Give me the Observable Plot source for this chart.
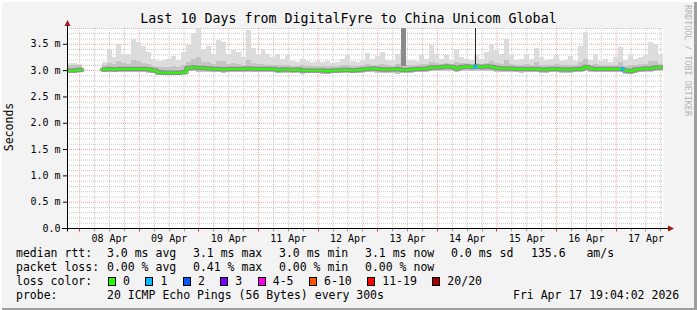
<!DOCTYPE html>
<html>
<head>
<meta charset="utf-8">
<script src="https://cdn.jsdelivr.net/npm/d3@7"></script>
<script src="https://cdn.jsdelivr.net/npm/@observablehq/plot@0.6"></script>
<style>
html,body{margin:0;padding:0;background:#f3f3f3;}
#chart{position:relative;width:697px;height:310px;background:#f3f3f3;overflow:hidden;
  box-shadow: inset 2px 2px 0 #fdfdfd, inset -3px -2px 0 #9e9e9e;
  font-family:"DejaVu Sans Mono",monospace;color:#000;}
#chart svg{position:absolute;left:0;top:0;}
.t{position:absolute;white-space:pre;line-height:1;font-size:11.5px;}
#title{position:absolute;left:0;top:11.5px;width:697px;text-align:center;font-size:13.3px;line-height:1;white-space:pre;}
#ylab{position:absolute;left:10px;top:127px;font-size:11.5px;line-height:1;transform:translate(-50%,-50%) rotate(-90deg);white-space:pre;}
#wm{position:absolute;left:684px;top:5px;font-size:8.4px;line-height:1;writing-mode:vertical-rl;color:#b4b4b4;white-space:pre;}
#losslegend{position:absolute;left:108px;top:276px;display:flex;align-items:center;height:11.5px;}
#losslegend .box{width:8px;height:9px;box-sizing:border-box;border:1px solid #000;margin-right:7px;}
#losslegend .lab{font-size:11.5px;line-height:1;margin-right:15.5px;white-space:pre;}
</style>
</head>
<body>
<div id="chart"></div>
<script>
// ---------- data ----------
const titleText = "Last 10 Days from DigitalFyre to China Unicom Global";
const yAxisLabel = "Seconds";
const watermark = "RRDTOOL / TOBI OETIKER";
const rangeStart = "2026-04-07T19:04:02Z";
const rangeEnd = "2026-04-17T19:04:02Z";
const bucketStart = "2026-04-07T19:00:00Z";
const stepHours = 2;

// median RTT (ms) per 2-hour bucket
const median = [3.00,3.00,3.01,null,null,null,null,
  3.02,3.03,3.02,3.03,3.03,3.03,3.03,3.03,3.03,3.02,3.00,
  2.97,2.96,2.96,2.96,2.96,2.97,
  3.05,3.06,3.05,3.05,3.04,3.03,3.03,3.02,3.03,3.03,3.03,3.03,3.04,3.03,3.03,3.03,
  3.03,3.03,3.01,3.02,3.02,3.01,3.02,3.00,3.00,3.00,
  3.00,3.00,2.99,3.00,3.00,3.01,3.01,3.00,3.01,3.02,
  3.03,3.04,3.03,3.02,3.02,3.02,3.03,3.01,3.01,3.02,
  3.03,3.03,3.04,3.06,3.06,3.07,3.08,3.07,3.04,3.07,
  3.08,3.07,3.08,3.07,3.08,3.07,3.05,3.04,3.04,3.04,
  3.03,3.03,3.03,3.03,3.03,3.02,3.02,3.03,3.03,3.02,
  3.02,3.02,3.03,3.03,3.07,3.04,3.03,3.03,3.03,3.03,
  3.03,3.03,3.00,2.99,3.02,3.03,3.04,3.04,3.06,3.06];

// slowest ping per bucket (top of light smoke)
const maxRtt = [3.13,3.14,3.12,null,null,null,null,
  3.15,3.38,3.25,3.50,3.30,3.30,3.60,3.54,3.45,3.35,3.22,
  3.18,3.20,3.22,3.27,3.20,3.35,
  3.48,3.70,3.80,3.40,3.45,3.30,3.57,3.54,3.30,3.38,3.35,3.25,3.77,3.42,3.30,3.38,
  3.30,3.25,3.30,3.22,3.28,3.17,3.15,3.22,3.18,3.16,
  3.18,3.15,3.17,3.14,3.16,3.22,3.28,3.18,3.15,3.20,
  3.33,3.22,3.26,3.35,3.20,3.17,3.30,3.40,3.20,3.20,
  3.18,3.28,3.22,3.48,3.30,3.22,3.28,3.20,3.41,3.25,
  3.22,3.20,3.29,3.22,3.35,3.50,3.38,3.30,3.60,3.30,
  3.20,3.22,3.30,3.22,3.42,3.25,3.20,3.22,3.29,3.18,
  3.20,3.27,3.18,3.45,3.72,3.20,3.30,3.18,3.22,3.15,
  3.24,3.44,3.20,3.30,3.22,3.25,3.28,3.54,3.50,3.30];

// upper edge of the dense smoke
const upperRtt = [3.09,3.10,3.09,null,null,null,null,
  3.10,3.14,3.12,3.18,3.13,3.12,3.20,3.18,3.14,3.12,3.08,
  3.06,3.05,3.06,3.07,3.06,3.10,
  3.16,3.22,3.25,3.15,3.16,3.12,3.18,3.17,3.12,3.13,3.12,3.10,3.20,3.14,3.11,3.12,
  3.10,3.10,3.09,3.09,3.10,3.08,3.08,3.09,3.08,3.08,
  3.08,3.07,3.08,3.07,3.08,3.09,3.10,3.08,3.08,3.09,
  3.12,3.10,3.10,3.12,3.09,3.08,3.11,3.13,3.10,3.10,
  3.10,3.11,3.11,3.16,3.13,3.12,3.14,3.12,3.16,3.13,
  3.13,3.12,3.14,3.12,3.14,3.18,3.14,3.12,3.20,3.12,
  3.10,3.10,3.12,3.10,3.15,3.10,3.09,3.10,3.11,3.09,
  3.09,3.10,3.09,3.15,3.22,3.10,3.11,3.09,3.10,3.09,
  3.10,3.15,3.08,3.10,3.10,3.11,3.12,3.18,3.17,3.12];

// fastest ping per bucket (bottom of smoke)
const lowerRtt = [2.95,2.95,2.96,null,null,null,null,
  2.96,2.96,2.96,2.96,2.96,2.96,2.96,2.96,2.96,2.95,2.94,
  2.91,2.90,2.90,2.90,2.90,2.92,
  2.98,2.98,2.97,2.97,2.97,2.96,2.96,2.95,2.96,2.96,2.96,2.96,2.96,2.96,2.96,2.96,
  2.96,2.96,2.95,2.95,2.95,2.94,2.95,2.93,2.94,2.94,
  2.94,2.93,2.93,2.94,2.94,2.94,2.95,2.94,2.94,2.95,
  2.96,2.96,2.95,2.95,2.95,2.95,2.93,2.94,2.95,2.95,
  2.96,2.96,2.97,2.98,2.98,2.99,2.99,2.98,2.96,2.98,
  2.99,2.98,2.99,2.98,2.99,2.98,2.97,2.96,2.96,2.96,
  2.96,2.95,2.96,2.96,2.96,2.95,2.95,2.96,2.96,2.95,
  2.95,2.95,2.96,2.96,2.98,2.96,2.96,2.96,2.96,2.96,
  2.96,2.96,2.93,2.92,2.95,2.96,2.96,2.97,2.98,2.98];

// isolated tall smoke columns
const spikeStart = ["2026-04-13T09:34:00Z", "2026-04-14T15:10:00Z"];
const spikeEnd   = ["2026-04-13T11:40:00Z", "2026-04-14T15:34:00Z"];
const spikeLow   = [3.08, 3.07];
const spikeHigh  = [3.80, 3.80];
const spikeColor = ["#8a8a8a", "#262626"];

// packet-loss events on the median line
const lossTimes = ["2026-04-14T15:22:00Z", "2026-04-17T02:35:00Z"];
const lossRtt = [3.07, 3.03];
const lossCount = [1, 1];

// axes
const yTicks = [0, 0.5, 1.0, 1.5, 2.0, 2.5, 3.0, 3.5];
const yTickLabels = ["0.0", "0.5 m", "1.0 m", "1.5 m", "2.0 m", "2.5 m", "3.0 m", "3.5 m"];
const xTickDates = ["2026-04-08T12:00:00Z","2026-04-09T12:00:00Z","2026-04-10T12:00:00Z","2026-04-11T12:00:00Z","2026-04-12T12:00:00Z",
  "2026-04-13T12:00:00Z","2026-04-14T12:00:00Z","2026-04-15T12:00:00Z","2026-04-16T12:00:00Z","2026-04-17T12:00:00Z"];
const xTickLabels = ["08 Apr","09 Apr","10 Apr","11 Apr","12 Apr","13 Apr","14 Apr","15 Apr","16 Apr","17 Apr"];

// legend
const lossLabels = ["0","1","2","3","4-5","6-10","11-19","20/20"];
const lossColors = ["#26ff00","#00b8ff","#0059ff","#7e00ff","#ff00ea","#ff5500","#ff0000","#a10000"];
const rttHeader = "median rtt:";
const rttStats = ["3.0 ms avg", "3.1 ms max", "3.0 ms min", "3.1 ms now", "0.0 ms sd", "135.6   am/s"];
const lossHeader = "packet loss:";
const lossStats = ["0.00 % avg", "0.41 % max", "0.00 % min", "0.00 % now"];
const lossColorHeader = "loss color:";
const probeHeader = "probe:";
const probeText = "20 ICMP Echo Pings (56 Bytes) every 300s";
const stampText = "Fri Apr 17 19:04:02 2026";

// ---------- build ----------
const H = 3600 * 1000;
const t0 = Date.parse(bucketStart);
const buckets = [];
const medianPath = [];
median.forEach((m, i) => {
  const t1 = new Date(t0 + i * stepHours * H), t2 = new Date(t0 + (i + 1) * stepHours * H);
  if (m == null) { medianPath.push({t: t1, v: NaN}); return; }
  buckets.push({t1, t2, median: m, max: maxRtt[i], hi: upperRtt[i], lo: lowerRtt[i]});
  medianPath.push({t: t1, v: m}, {t: t2, v: m});
});
const spikes = spikeStart.map((s, i) => ({t1: new Date(s), t2: new Date(spikeEnd[i]), y1: spikeLow[i], y2: spikeHigh[i], c: spikeColor[i]}));
const losses = lossTimes.map((s, i) => ({t: new Date(s), v: lossRtt[i], c: lossColors[lossCount[i]]}));

const xStart = new Date(rangeStart), xEnd = new Date(rangeEnd);
const majorX = d3.utcDay.range(xStart, xEnd);
const minorX = d3.utcHour.every(6).range(xStart, xEnd).filter(d => d.getUTCHours() !== 0);
const majorY = d3.range(1, 8).map(i => i * 0.5);
const minorY = d3.range(1, 39).filter(i => i % 5 !== 0).map(i => i / 10);
const xTicks = xTickDates.map(s => new Date(s));

const W = 697, HT = 250, ML = 67, MR = 34, MT = 28, MB = 22;

const plot = Plot.plot({
  width: W, height: HT,
  marginLeft: ML, marginRight: MR, marginTop: MT, marginBottom: MB,
  style: {background: "transparent", fontFamily: "'DejaVu Sans Mono', monospace", fontSize: "10px", color: "#000", overflow: "visible"},
  x: {type: "utc", domain: [xStart, xEnd]},
  y: {domain: [0, 3.8]},
  color: {type: "identity"},
  marks: [
    Plot.frame({fill: "#ffffff", stroke: "none"}),
    Plot.ruleY(minorY, {stroke: "#c8c8c8", strokeDasharray: "1,1"}),
    Plot.ruleX(minorX, {stroke: "#c8c8c8", strokeDasharray: "1,1"}),
    Plot.ruleY(majorY, {stroke: "#f6a4a4", strokeDasharray: "1,1"}),
    Plot.ruleX(majorX, {stroke: "#f6a4a4", strokeDasharray: "1,1"}),
    Plot.rect(buckets, {x1: "t1", x2: "t2", y1: "lo", y2: "max", fill: "#dcdcdc", inset: 0, clip: true, shapeRendering: "crispEdges"}),
    Plot.rect(buckets, {x1: "t1", x2: "t2", y1: "lo", y2: "hi", fill: "#c4c4c4", inset: 0, clip: true, shapeRendering: "crispEdges"}),
    Plot.rect(spikes, {x1: "t1", x2: "t2", y1: "y1", y2: "y2", fill: "c", inset: 0, clip: true, shapeRendering: "crispEdges"}),
    Plot.line(medianPath, {x: "t", y: "v", stroke: "#7a7a7a", strokeWidth: 4.5, strokeOpacity: 0.75, clip: true}),
    Plot.line(medianPath, {x: "t", y: "v", stroke: "#26ff00", strokeWidth: 2, clip: true}),
    Plot.dot(losses, {x: "t", y: "v", symbol: "square", r: 2, fill: "c", stroke: "none"}),
    Plot.axisY(yTicks, {tickSize: 4, tickPadding: 3, fontSize: 10, tickFormat: d => yTickLabels[yTicks.indexOf(d)]}),
    Plot.axisX(xTicks, {tickSize: 0, tickPadding: 6, fontSize: 10, tickFormat: d => xTickLabels[xTicks.findIndex(t => +t === +d)]})
  ]
});

// axis lines, arrows and small ticks under the x axis
const sx = plot.scale("x"), sy = plot.scale("y");
const y0 = Math.round(sy.apply(0)) + 0.5;
const g = d3.select(plot).append("g");
minorX.forEach(d => {
  const x = Math.round(sx.apply(d)) + 0.5;
  g.append("line").attr("x1", x).attr("x2", x).attr("y1", y0).attr("y2", y0 + 3).attr("stroke", "#a0a0a0");
});
majorX.forEach(d => {
  const x = Math.round(sx.apply(d)) + 0.5;
  g.append("line").attr("x1", x).attr("x2", x).attr("y1", y0).attr("y2", y0 + 3).attr("stroke", "#ee3030");
});
g.append("line").attr("x1", ML - 5).attr("x2", W - MR + 5).attr("y1", y0).attr("y2", y0).attr("stroke", "#000");
g.append("polygon").attr("points", `${W - MR + 5},${y0 - 3} ${W - MR + 11},${y0} ${W - MR + 5},${y0 + 3}`).attr("fill", "#a01818");
g.append("line").attr("x1", ML + 0.5).attr("x2", ML + 0.5).attr("y1", y0 + 3).attr("y2", MT - 2).attr("stroke", "#000");
g.append("polygon").attr("points", `${ML - 2.5},${MT - 2} ${ML + 0.5},${MT - 8} ${ML + 3.5},${MT - 2}`).attr("fill", "#a01818");

const chart = document.getElementById("chart");
chart.appendChild(plot);

function addText(txt, left, top, cls = "t") {
  const d = document.createElement("div");
  d.className = cls; d.textContent = txt;
  d.style.left = left + "px"; d.style.top = top + "px";
  chart.appendChild(d);
  return d;
}
const title = document.createElement("div"); title.id = "title"; title.textContent = titleText; chart.appendChild(title);
const yl = document.createElement("div"); yl.id = "ylab"; yl.textContent = yAxisLabel; chart.appendChild(yl);
const wm = document.createElement("div"); wm.id = "wm"; wm.textContent = watermark; chart.appendChild(wm);

const colX = [107, 193, 279, 365, 451, 531];
addText(rttHeader, 16, 248);
rttStats.forEach((s, i) => addText(s, colX[i], 248));
addText(lossHeader, 16, 262);
lossStats.forEach((s, i) => addText(s, colX[i], 262));
addText(lossColorHeader, 16, 276);
const ll = document.createElement("div"); ll.id = "losslegend";
lossLabels.forEach((lab, i) => {
  const b = document.createElement("div"); b.className = "box"; b.style.background = lossColors[i];
  const l = document.createElement("div"); l.className = "lab"; l.textContent = lab;
  ll.appendChild(b); ll.appendChild(l);
});
chart.appendChild(ll);
addText(probeHeader, 16, 290);
addText(probeText, 107, 290);
addText(stampText, 513, 290);
</script>
</body>
</html>
